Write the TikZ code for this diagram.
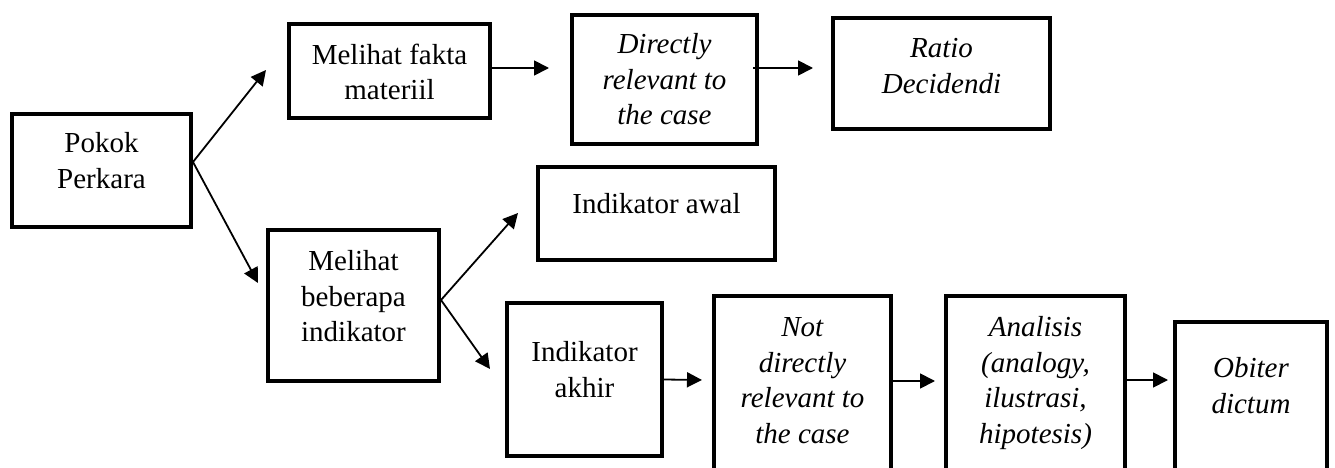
\documentclass[tikz,border=0pt]{standalone}
\usepackage{fontspec}
\setmainfont{Liberation Serif}
\usetikzlibrary{arrows.meta,calc}
\begin{document}
\begin{tikzpicture}[x=1pt,y=-1pt,
  box/.style={draw, line width=4pt, rectangle, inner sep=0pt},
  txt/.style={font=\fontsize{29}{35.5}\selectfont, align=center, inner sep=0pt, anchor=north},
  arr/.style={line width=1.8pt, -{Triangle[length=15pt,width=15pt]}}]
\useasboundingbox (0,0) rectangle (1335,468);

\node[box, minimum width=179pt, minimum height=113pt,
  label={[txt,yshift=-20.5pt]north:Pokok\\Perkara}] (pokok) at (101.5,170.5) {};
\node[box, minimum width=201pt, minimum height=94pt,
  label={[txt,yshift=-21.5pt]north:Melihat fakta\\materiil}] (fakta) at (389.5,71) {};
\node[box, minimum width=185pt, minimum height=129pt,
  label={[txt,yshift=-20.5pt]north:\textit{Directly}\\\textit{relevant to}\\\textit{the case}}] (direct) at (664.5,79.5) {};
\node[box, minimum width=217pt, minimum height=111pt,
  label={[txt,yshift=-22.5pt]north:\textit{Ratio}\\\textit{Decidendi}}] (ratio) at (941.5,73.5) {};
\node[box, minimum width=171pt, minimum height=151pt,
  label={[txt,yshift=-22.5pt]north:Melihat\\beberapa\\indikator}] (beberapa) at (353.5,305.5) {};
\node[box, minimum width=237pt, minimum height=93pt,
  label={[txt,yshift=-28.5pt]north:Indikator awal}] (awal) at (656.5,213.5) {};
\node[box, minimum width=155pt, minimum height=153pt,
  label={[txt,yshift=-40.5pt]north:Indikator\\akhir}] (akhir) at (584.5,379.5) {};
\node[box, minimum width=177pt, minimum height=184pt,
  label={[txt,yshift=-23.5pt]north:\textit{Not}\\\textit{directly}\\\textit{relevant to}\\\textit{the case}}] (notdir) at (802.5,388) {};
\node[box, minimum width=179pt, minimum height=184pt,
  label={[txt,yshift=-22.5pt]north:\textit{Analisis}\\\textit{(analogy,}\\\textit{ilustrasi,}\\\textit{hipotesis)}}] (analisis) at (1035.5,388) {};
\node[box, minimum width=152pt, minimum height=158pt,
  label={[txt,yshift=-37.5pt]north:\textit{Obiter}\\\textit{dictum}}] (obiter) at (1251,401) {};

\coordinate (t1) at (266,70);
\coordinate (t2) at (258,283);
\coordinate (t3) at (549,68);
\coordinate (t4) at (813,68);
\coordinate (t5) at (518,213);
\coordinate (t6) at (490,369);
\coordinate (t7) at (702,380);
\coordinate (t8) at (935,381);
\coordinate (t9) at (1168,380);

\draw[arr] ([yshift=8.5pt]pokok.east) -- (t1);
\draw[arr] ([yshift=8.5pt]pokok.east) -- (t2);
\draw[arr] ([yshift=3pt]fakta.east) -- (t3);
\draw[arr] ([xshift=-6pt,yshift=11.5pt]direct.east) -- (t4);
\draw[arr] ([yshift=5.5pt]beberapa.east) -- (t5);
\draw[arr] ([yshift=5.5pt]beberapa.east) -- (t6);
\draw[arr] (akhir.east) -- (t7);
\draw[arr] ([yshift=7pt]notdir.east) -- (t8);
\draw[arr] ([yshift=8pt]analisis.east) -- (t9);
\end{tikzpicture}
\end{document}
